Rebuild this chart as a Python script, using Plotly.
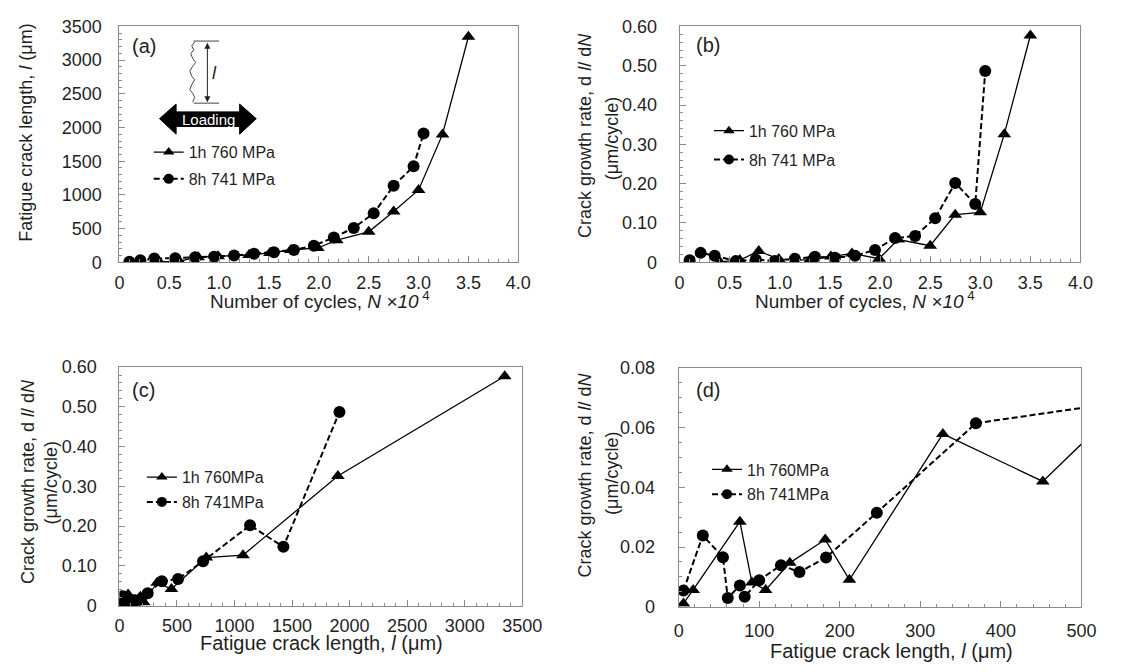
import plotly.graph_objects as go

W, H = 1121, 672

# ---------------- data ----------------
# 1h 760 MPa (triangles)
N_1h = [0.40, 0.60, 0.79, 0.99, 1.30, 1.51, 1.72, 1.99, 2.18, 2.50, 2.75, 3.00, 3.24, 3.50]
l_1h = [6, 18, 76, 91, 108, 138, 182, 212, 328, 452, 755, 1074, 1898, 3348]
rate_1h = [0.0011, 0.0056, 0.0285, 0.0081, 0.0056, 0.0147, 0.0225, 0.0090, 0.0579, 0.0420,
           0.121, 0.127, 0.326, 0.577]

# 8h 741 MPa (circles)
N_8h = [0.10, 0.21, 0.35, 0.56, 0.76, 0.95, 1.15, 1.35, 1.55, 1.75, 1.95, 2.15, 2.35, 2.55,
        2.75, 2.95, 3.05]
l_8h = [6, 30, 55, 61, 76, 82, 100, 127, 150, 183, 246, 369, 510, 727, 1135, 1425, 1912]
rate_8h = [0.0054, 0.0239, 0.0166, 0.0029, 0.0071, 0.0033, 0.0089, 0.0139, 0.0116, 0.0165,
           0.0315, 0.0615, 0.067, 0.112, 0.202, 0.148, 0.487]

# tick labels
xN_vals = [0, 0.5, 1.0, 1.5, 2.0, 2.5, 3.0, 3.5, 4.0]
xN_text = ["0", "0.5", "1.0", "1.5", "2.0", "2.5", "3.0", "3.5", "4.0"]
yl_vals = [0, 500, 1000, 1500, 2000, 2500, 3000, 3500]
yrate_vals = [0, 0.1, 0.2, 0.3, 0.4, 0.5, 0.6]
yrate_text = ["0", "0.10", "0.20", "0.30", "0.40", "0.50", "0.60"]
xl_vals = [0, 500, 1000, 1500, 2000, 2500, 3000, 3500]
xl2_vals = [0, 100, 200, 300, 400, 500]
yrate2_vals = [0, 0.02, 0.04, 0.06, 0.08]
yrate2_text = ["0", "0.02", "0.04", "0.06", "0.08"]

FONT = "Arial, Liberation Sans, sans-serif"
TXT = "#1f1f1f"
FRAME = "#8a8a8a"
FS_TICK = 18
FS_LEG = 16


def px(x, y):
    return x / W, 1 - y / H


def xdom(a, b):
    return [a / W, b / W]


def ydom(top, bottom):
    return [1 - bottom / H, 1 - top / H]


fig = go.Figure()

TRI = dict(color="black", width=1.3)
CIR = dict(color="black", width=2, dash="6px,3px")


def add_pair(xa, ya, x1, y1, x2, y2, legend, names):
    # data traces
    fig.add_trace(go.Scatter(
        x=x1, y=y1, mode="lines+markers", name=names[0], showlegend=False,
        xaxis=xa, yaxis=ya, line=TRI,
        marker=dict(symbol="triangle-up", size=12, color="black")))
    fig.add_trace(go.Scatter(
        x=x2, y=y2, mode="lines+markers", name=names[1], showlegend=False,
        xaxis=xa, yaxis=ya, line=CIR,
        marker=dict(symbol="circle", size=12, color="black")))
    # legend entries (smaller symbols, as in the reference legend)
    fig.add_trace(go.Scatter(
        x=[None], y=[None], mode="lines+markers", name=names[0],
        xaxis=xa, yaxis=ya, legend=legend, legendgroup=legend + "a", line=TRI,
        marker=dict(symbol="triangle-up", size=10, color="black")))
    fig.add_trace(go.Scatter(
        x=[None], y=[None], mode="lines+markers", name=names[1],
        xaxis=xa, yaxis=ya, legend=legend, legendgroup=legend + "b", line=CIR,
        marker=dict(symbol="circle", size=10, color="black")))


add_pair("x", "y", N_1h, l_1h, N_8h, l_8h, "legend", ["1h 760 MPa", "8h 741 MPa"])
add_pair("x2", "y2", N_1h, rate_1h, N_8h, rate_8h, "legend2", ["1h 760 MPa", "8h 741 MPa"])
add_pair("x3", "y3", l_1h, rate_1h, l_8h, rate_8h, "legend3", ["1h 760MPa", "8h 741MPa"])
add_pair("x4", "y4", l_1h, rate_1h, l_8h, rate_8h, "legend4", ["1h 760MPa", "8h 741MPa"])


def axis_common(**kw):
    d = dict(showline=True, mirror=True, linecolor=FRAME, linewidth=1,
             ticks="inside", ticklen=6, tickcolor=FRAME, tickwidth=1,
             showgrid=False, zeroline=False,
             tickfont=dict(family=FONT, size=FS_TICK, color=TXT))
    d.update(kw)
    return d


layout_axes = dict(
    xaxis=axis_common(domain=xdom(117, 525), range=[0, 4.0], anchor="y",
                      tickmode="array", tickvals=xN_vals, ticktext=xN_text,
                      minor=dict(ticks="inside", ticklen=3, dtick=0.1, tickcolor=FRAME),
                      ticklabelstandoff=4),
    yaxis=axis_common(domain=ydom(17, 260), range=[0, 3500], anchor="x",
                      tickmode="array", tickvals=yl_vals,
                      minor=dict(ticks="inside", ticklen=3, dtick=100, tickcolor=FRAME),
                      ticklabelstandoff=13),
    xaxis2=axis_common(domain=xdom(690, 1100), range=[0, 4.0], anchor="y2",
                       tickmode="array", tickvals=xN_vals, ticktext=xN_text,
                       minor=dict(ticks="inside", ticklen=3, dtick=0.1, tickcolor=FRAME),
                       ticklabelstandoff=4),
    yaxis2=axis_common(domain=ydom(17, 260), range=[0, 0.6], anchor="x2",
                       tickmode="array", tickvals=yrate_vals, ticktext=yrate_text,
                       minor=dict(ticks="inside", ticklen=3, dtick=0.02, tickcolor=FRAME),
                       ticklabelstandoff=18),
    xaxis3=axis_common(domain=xdom(117, 529), range=[0, 3500], anchor="y3",
                       tickmode="array", tickvals=xl_vals,
                       minor=dict(ticks="inside", ticklen=3, dtick=100, tickcolor=FRAME),
                       ticklabelstandoff=4),
    yaxis3=axis_common(domain=ydom(368, 614), range=[0, 0.6], anchor="x3",
                       tickmode="array", tickvals=yrate_vals, ticktext=yrate_text,
                       minor=dict(ticks="inside", ticklen=3, dtick=0.02, tickcolor=FRAME),
                       ticklabelstandoff=18),
    xaxis4=axis_common(domain=xdom(689, 1101), range=[0, 500], anchor="y4",
                       tickmode="array", tickvals=xl2_vals,
                       minor=dict(ticks="inside", ticklen=3, dtick=20, tickcolor=FRAME),
                       ticklabelstandoff=8),
    yaxis4=axis_common(domain=ydom(369, 615), range=[0, 0.08], anchor="x4",
                       tickmode="array", tickvals=yrate2_vals, ticktext=yrate2_text,
                       minor=dict(ticks="inside", ticklen=3, dtick=0.005, tickcolor=FRAME),
                       ticklabelstandoff=19),
)


def legend_at(x, y, gap):
    lx, ly = px(x, y)
    return dict(x=lx, y=ly, xanchor="left", yanchor="top", tracegroupgap=gap,
                bgcolor="rgba(0,0,0,0)", borderwidth=0,
                font=dict(family=FONT, size=FS_LEG, color=TXT))


annotations = []


def text_at(x, y, text, size=18, angle=0, color=TXT):
    ax_, ay_ = px(x, y)
    annotations.append(dict(x=ax_, y=ay_, xref="paper", yref="paper", text=text,
                            showarrow=False, textangle=angle, xanchor="center",
                            yanchor="middle",
                            font=dict(family=FONT, size=size, color=color)))


# axis titles
text_at(22, 127, "Fatigue crack length, <i>l</i> (μm)", size=18, angle=-90)
text_at(322, 299, "Number of cycles, <i>N</i> <i>×10</i><sup> 4</sup>", size=19)
text_at(593, 129, "Crack growth rate, d <i>l</i>/ d<i>N</i>", size=18, angle=-90)
text_at(621, 133, "(μm/cycle)", size=18, angle=-90)
text_at(880, 299, "Number of cycles, <i>N</i> <i>×10</i><sup> 4</sup>", size=19)
text_at(23, 486, "Crack growth rate, d <i>l</i>/ d<i>N</i>", size=18, angle=-90)
text_at(47, 487, "(μm/cycle)", size=18, angle=-90)
text_at(324, 652, "Fatigue crack length, <i>l</i> (μm)", size=20)
text_at(593, 479, "Crack growth rate, d <i>l</i>/ d<i>N</i>", size=18, angle=-90)
text_at(621, 478, "(μm/cycle)", size=18, angle=-90)
text_at(907, 661, "Fatigue crack length, <i>l</i> (μm)", size=20)

# panel labels
text_at(142, 37, "(a)", size=20)
text_at(719, 36, "(b)", size=20)
text_at(142, 392, "(c)", size=20)
text_at(719, 392, "(d)", size=20)

# inset schematic in (a)
text_at(208, 113, "Loading", size=15, color="white")
text_at(214, 65, "<i>l</i>", size=18)
x0, y0 = px(207, 95)
annotations.append(dict(x=x0, y=y0, xref="paper", yref="paper", text="",
                        showarrow=True, ax=0, ay=-61, axref="pixel", ayref="pixel",
                        arrowside="end+start", arrowhead=2, arrowsize=1.2,
                        arrowwidth=1, arrowcolor="#222222"))


def path_from(points, close=False):
    s = ""
    for i, (x, y) in enumerate(points):
        fx, fy = px(x, y)
        s += ("M" if i == 0 else "L") + f"{fx:.5f},{fy:.5f} "
    if close:
        s += "Z"
    return s


shapes = []
arrow_pts = [(158, 112), (175, 97), (175, 105), (240, 105), (240, 97), (257, 112),
             (240, 128), (240, 120), (175, 120), (175, 128)]
shapes.append(dict(type="path", xref="paper", yref="paper",
                   path=path_from(arrow_pts, close=True),
                   fillcolor="black", line=dict(color="black", width=1)))
crack_pts = [(194, 33), (191, 37), (193, 41), (190, 45), (192, 50), (195, 54), (192, 58),
             (189, 63), (191, 68), (194, 72), (191, 77), (189, 82), (192, 86), (194, 90),
             (192, 95)]
shapes.append(dict(type="path", xref="paper", yref="paper", path=path_from(crack_pts),
                   line=dict(color="#444444", width=1)))
for yy in (32, 96):
    a = px(193, yy)
    b = px(219, yy)
    shapes.append(dict(type="line", xref="paper", yref="paper", x0=a[0], y0=a[1],
                       x1=b[0], y1=b[1], line=dict(color="#444444", width=1)))

fig.update_layout(
    width=W, height=H, margin=dict(l=0, r=0, t=0, b=0),
    paper_bgcolor="white", plot_bgcolor="white",
    font=dict(family=FONT, size=FS_TICK, color=TXT),
    legend=legend_at(147, 129, 3),
    legend2=legend_at(720, 107, 5),
    legend3=legend_at(140, 464, 1),
    legend4=legend_at(718, 456, 1),
    annotations=annotations, shapes=shapes,
    **layout_axes,
)

fig.write_html("out.html")
